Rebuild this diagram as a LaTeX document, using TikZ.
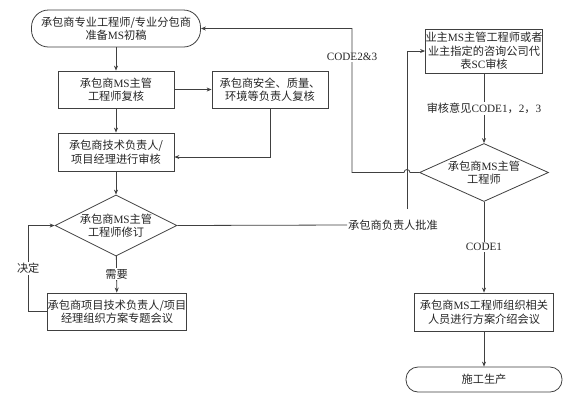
\documentclass[tikz,border=0pt]{standalone}
\usepackage{fontspec}
\setmainfont{Noto Sans CJK SC}
\newfontfamily\latfont{Liberation Serif}
\newcommand\en[1]{{\latfont #1}}
\usetikzlibrary{shapes.geometric,arrows.meta}
\begin{document}
\begin{tikzpicture}[x=1pt,y=-1pt,
  every node/.style={font=\fontsize{11.2}{13.5}\selectfont, text=black!85},
  ln/.style={draw=black!75, line width=0.8pt},
  arr/.style={ln, -{Stealth[length=5pt,width=4pt]}},
  box/.style={ln, rectangle, align=center, inner sep=0pt},
  term/.style={ln, rectangle, rounded corners=#1, align=center, inner sep=0pt},
  dia/.style={ln, diamond, align=center, inner sep=0pt},
  lbl/.style={fill=white, inner sep=1pt}]
\useasboundingbox (0,0) rectangle (572,400);
\fill[white] (0,0) rectangle (572,400);

% left column
\node[term=17pt, minimum width=169pt, minimum height=37pt] (t1) at (116,28.5)
  {承包商专业工程师/专业分包商\\准备\en{MS}初稿};
\node[box, minimum width=116pt, minimum height=37pt] (b2) at (116,89.5)
  {承包商\en{MS}主管\\工程师复核};
\node[box, minimum width=116pt, minimum height=37pt] (b3) at (270,89.5)
  {承包商安全、质量、\\环境等负责人复核};
\node[box, minimum width=116pt, minimum height=38pt] (b4) at (116,152)
  {承包商技术负责人/\\项目经理进行审核};
\node[dia, minimum width=122pt, minimum height=61pt, shape aspect=2] (d1) at (116,225.5)
  {承包商\en{MS}主管\\工程师修订};
\node[box, minimum width=136pt, minimum height=37pt] (b5) at (117,311.5)
  {承包商项目技术负责人/项目\\经理组织方案专题会议};

% right column
\node[box, minimum width=116pt, minimum height=44pt] (sc) at (484,51)
  {业主\en{MS}主管工程师或者\\业主指定的咨询公司代\\表\en{SC}审核};
\node[dia, minimum width=129pt, minimum height=58pt, shape aspect=2.2] (d2) at (484,172.5)
  {承包商\en{MS}主管\\工程师};
\node[box, minimum width=139pt, minimum height=38pt] (b7) at (484,312)
  {承包商\en{MS}工程师组织相关\\人员进行方案介绍会议};
\node[term=12pt, minimum width=156pt, minimum height=25pt] (t2) at (484,379.5)
  {施工生产};

\node[lbl] (appr) at (393,225) {承包商负责人批准};
\coordinate (up) at (407,209);

% connectors
\draw[arr] (t1) -- (b2);
\draw[arr] (b2) -- (b3);
\draw[arr] (b2) -- (b4);
\draw[arr] (b3.south) |- ([yshift=-5pt]b4.east);
\draw[arr] (b4) -- (d1);
\draw[arr] (d1) -- node[lbl]{需要} (b5);
\draw[arr] (b5.west) -- ++(-19,0) |- node[lbl, pos=0.25]{决定} (d1.west);
\draw[ln] (d1.east) -- (appr.west);
\draw[arr] (up) |- (sc.west);
\draw[arr] (sc) -- node[lbl]{审核意见\en{CODE1}，\en{2}，\en{3}} (d2);
\draw[arr] (d2.west) -- (d2.west -| 410,0) arc (0:-180:3) -- (d2.west -| 352,0)
  |- node[lbl, pos=0.4]{\en{CODE2\&3}} (t1.east);
\draw[arr] (d2) -- node[lbl]{\en{CODE1}} (b7);
\draw[arr] (b7) -- (t2);
\end{tikzpicture}
\end{document}
